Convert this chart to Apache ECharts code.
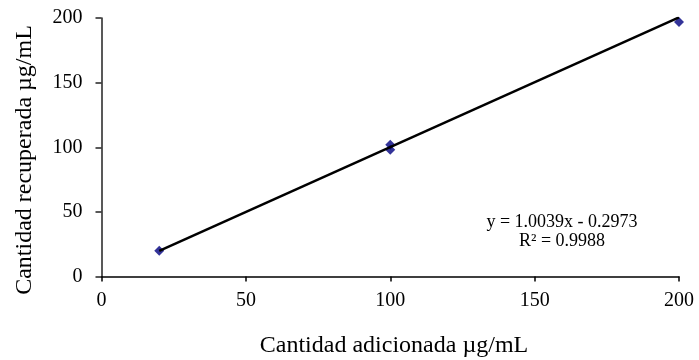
<!DOCTYPE html>
<html>
<head>
<meta charset="utf-8">
<script src="https://cdn.jsdelivr.net/npm/echarts@6/dist/echarts.min.js"></script>
<style>
  html, body { margin: 0; padding: 0; background: #fff; }
  #chart { width: 699px; height: 360px; }
</style>
</head>
<body>
<div id="chart"></div>
<script>
// Added vs. recovered concentration (µg/mL)
const addedX = [20, 100, 100, 200];
const recoveredY = [20, 102, 98, 197];

// Linear fit as stated in the annotation
const fitSlope = 1.0039;
const fitIntercept = -0.2973;
const fitR2 = 0.9988;
const fitRangeX = [20, 200];

const xTicks = [0, 50, 100, 150, 200];
const yTicks = [0, 50, 100, 150, 200];

const xTitle = 'Cantidad adicionada µg/mL';
const yTitle = 'Cantidad recuperada µg/mL';

const points = addedX.map((x, i) => [x, recoveredY[i]]);
const fitLine = fitRangeX.map(x => [x, fitSlope * x + fitIntercept]);

const serif = '"Liberation Serif", "Times New Roman", serif';

const chart = echarts.init(document.getElementById('chart'), null, { renderer: 'canvas' });
chart.setOption({
  animation: false,
  backgroundColor: '#fff',
  grid: { left: 101.5, right: 20, top: 18, bottom: 83.5, containLabel: false },
  xAxis: {
    type: 'value',
    min: xTicks[0],
    max: xTicks[xTicks.length - 1],
    interval: xTicks[1] - xTicks[0],
    axisLine: { lineStyle: { color: '#000', width: 1.5 } },
    axisTick: { show: true, inside: false, length: 5, lineStyle: { color: '#000', width: 1.5 } },
    axisLabel: { fontFamily: serif, fontSize: 20, color: '#000', margin: 14 },
    splitLine: { show: false }
  },
  yAxis: {
    type: 'value',
    min: yTicks[0],
    max: yTicks[yTicks.length - 1],
    interval: yTicks[1] - yTicks[0],
    axisLine: { show: true, lineStyle: { color: '#222', width: 1.5 } },
    axisTick: { show: true, inside: false, length: 6, lineStyle: { color: '#222', width: 1.5 } },
    axisLabel: { fontFamily: serif, fontSize: 20, color: '#000', margin: 19, padding: [5, 0, 0, 0] },
    splitLine: { show: false }
  },
  series: [
    {
      type: 'scatter',
      data: points,
      symbol: 'diamond',
      symbolSize: 10,
      itemStyle: { color: '#000080' },
      z: 2
    },
    {
      type: 'line',
      data: fitLine,
      showSymbol: false,
      symbol: 'none',
      lineStyle: { color: '#000', width: 2.5 },
      z: 3
    }
  ],
  graphic: [
    {
      type: 'text',
      x: 394, y: 346,
      style: {
        text: xTitle, font: '24px ' + serif, fill: '#000',
        align: 'center', verticalAlign: 'middle'
      }
    },
    {
      type: 'text',
      x: 25, y: 160,
      rotation: Math.PI / 2,
      style: {
        text: yTitle, font: '24px ' + serif, fill: '#000',
        align: 'center', verticalAlign: 'middle'
      }
    },
    {
      type: 'text',
      x: 562, y: 222,
      style: {
        text: 'y = ' + fitSlope.toFixed(4) + 'x - ' + Math.abs(fitIntercept).toFixed(4),
        font: '18px ' + serif, fill: '#000', align: 'center', verticalAlign: 'middle'
      }
    },
    {
      type: 'text',
      x: 562, y: 241,
      style: {
        text: 'R² = ' + fitR2.toFixed(4),
        font: '18px ' + serif, fill: '#000', align: 'center', verticalAlign: 'middle'
      }
    }
  ]
});
</script>
</body>
</html>
